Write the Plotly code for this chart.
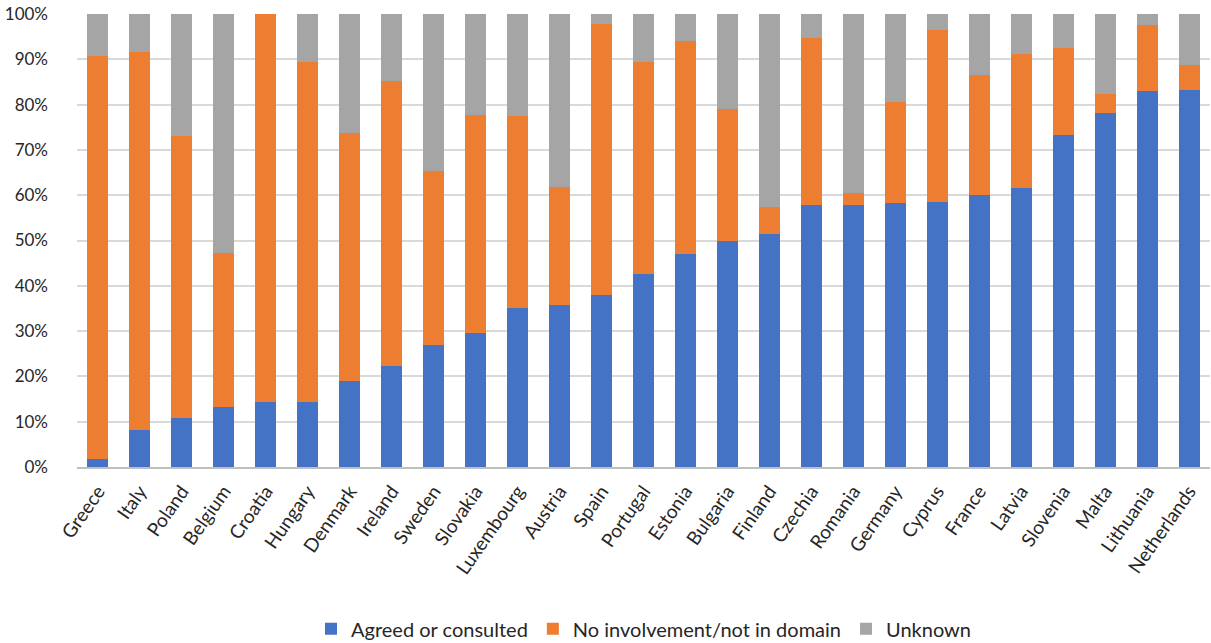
import plotly.graph_objects as go

countries = ["Greece", "Italy", "Poland", "Belgium", "Croatia", "Hungary", "Denmark", "Ireland",
             "Sweden", "Slovakia", "Luxembourg", "Austria", "Spain", "Portugal", "Estonia",
             "Bulgaria", "Finland", "Czechia", "Romania", "Germany", "Cyprus", "France", "Latvia",
             "Slovenia", "Malta", "Lithuania", "Netherlands"]

agreed = [1.8, 8.2, 10.8, 13.2, 14.3, 14.3, 19.0, 22.3, 26.9, 29.6, 35.0, 35.8, 38.0, 42.5,
          47.0, 50.0, 51.5, 57.8, 57.8, 58.3, 58.6, 60.0, 61.7, 73.2, 78.2, 82.9, 83.3]
cumulative_top = [90.7, 91.7, 73.0, 47.3, 100.0, 89.3, 73.8, 85.2, 65.4, 77.7, 77.4, 61.9, 97.7,
                  89.3, 94.1, 79.1, 57.5, 94.6, 60.5, 80.5, 96.5, 86.6, 91.2, 92.6, 82.4, 97.5, 88.8]
no_involvement = [round(t - a, 1) for t, a in zip(cumulative_top, agreed)]
unknown = [round(100 - t, 1) for t in cumulative_top]

series_names = ["Agreed or consulted", "No involvement/not in domain", "Unknown"]
colors = ["#4472C4", "#ED7D31", "#A5A5A5"]
y_ticks = list(range(0, 101, 10))
y_tick_labels = [f"{v}%" for v in y_ticks]

fig = go.Figure()
for name, vals, col in zip(series_names, [agreed, no_involvement, unknown], colors):
    fig.add_trace(go.Bar(x=countries, y=vals, name=name, marker=dict(color=col, line=dict(width=0))))

font_family = "Lato, 'Noto Sans', sans-serif"
fig.update_layout(
    barmode="stack",
    bargap=0.5,
    width=1211, height=643,
    margin=dict(l=77, r=1, t=14, b=176, pad=0, autoexpand=False),
    plot_bgcolor="white", paper_bgcolor="white",
    font=dict(family=font_family, size=18, color="#262626"),
    legend=dict(orientation="h", x=0.5, xanchor="center", y=-0.357, yanchor="middle",
                font=dict(size=20, color="#262626"), traceorder="normal",
                itemwidth=30),
    showlegend=True,
)
fig.update_yaxes(range=[0, 100], tickvals=y_ticks, ticktext=y_tick_labels,
                 showgrid=True, gridcolor="#D9D9D9", gridwidth=1.5, zeroline=False,
                 ticks="", ticklabelstandoff=28,
                 tickfont=dict(size=17), fixedrange=True, automargin=False)
fig.update_xaxes(tickangle=-55, showline=True, linecolor="#BFBFBF", linewidth=1.5,
                 ticks="outside", ticklen=4, tickcolor="rgba(0,0,0,0)",
                 tickfont=dict(size=19), fixedrange=True, automargin=False)

fig.write_html("out.html")
